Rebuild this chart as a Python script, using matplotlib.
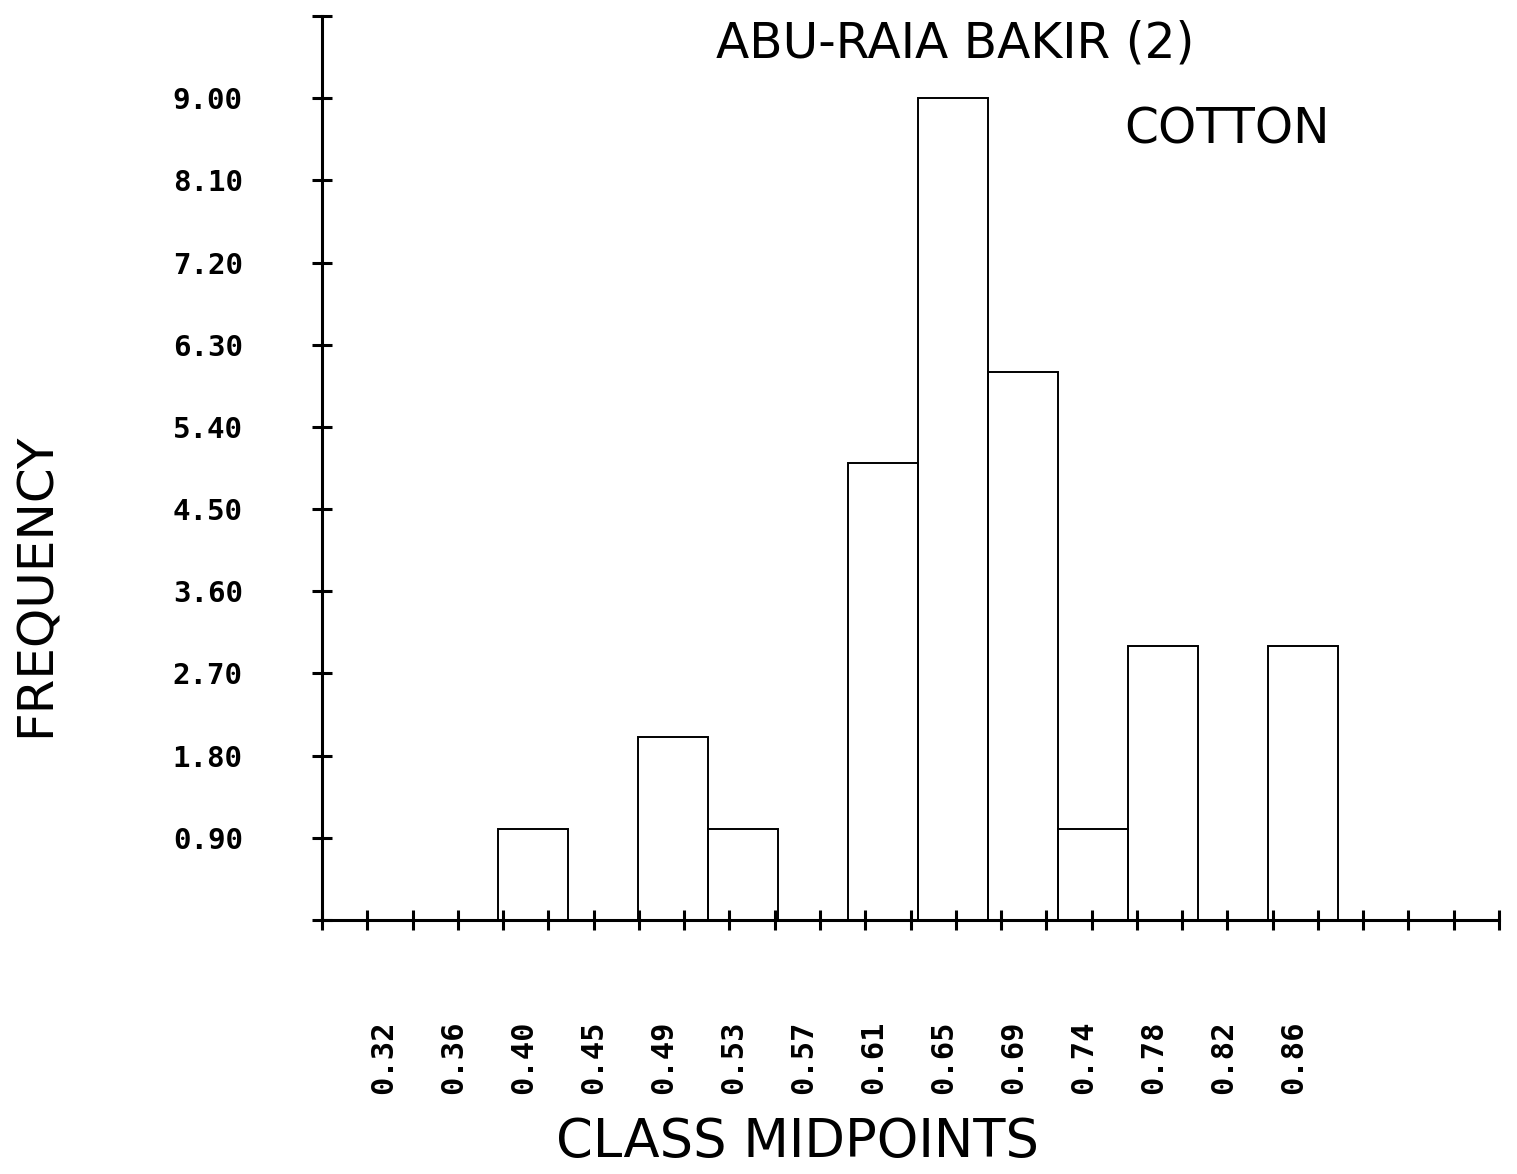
import numpy as np
import matplotlib.pyplot as plt
from matplotlib import transforms

# class midpoints (x labels) and counts per class
midpoints = ["0.32", "0.36", "0.40", "0.45", "0.49", "0.53", "0.57",
             "0.61", "0.65", "0.69", "0.74", "0.78", "0.82", "0.86"]
frequency = [0, 0, 1, 0, 2, 1, 0, 5, 9, 6, 1, 3, 0, 3]
ytick_vals = [0.9 * k for k in range(12)]
ytick_labels = ["" if k in (0, 11) else "%.2f" % (0.9 * k) for k in range(12)]

W, H = 1517, 1174
fig = plt.figure(figsize=(W / 100, H / 100), dpi=100)
ax = fig.add_axes([322 / W, 1 - 920 / H, (1499 - 322) / W, (920 - 16) / H])

x = np.arange(len(midpoints))
ax.bar(x, frequency, width=1.0, fill=False, edgecolor="black", linewidth=1.4, zorder=3)

xmin, xmax = -1.014, 15.8
ax.set_xlim(xmin, xmax)
ax.set_ylim(0, 9.9)
for s in ["top", "right"]:
    ax.spines[s].set_visible(False)
for s in ["left", "bottom"]:
    ax.spines[s].set_linewidth(2.2)

ax.set_xticks(np.linspace(xmin, xmax, 27), [])
ax.set_yticks(ytick_vals, ytick_labels)
ax.tick_params(direction="inout", length=14, width=2.2)
ax.tick_params(axis="y", pad=50)
for lab in ax.get_yticklabels():
    lab.set_fontfamily("DejaVu Sans Mono")
    lab.set_fontweight("bold")
    lab.set_fontsize(21)

trans = transforms.blended_transform_factory(ax.transData, ax.transAxes)
for i, lab in enumerate(midpoints):
    ax.text(i - 0.13, -0.1515, lab, transform=trans, rotation=90,
            ha="center", va="center", fontfamily="DejaVu Sans Mono",
            fontweight="bold", fontsize=22)

fig.text(955 / W, 1 - 43 / H, "ABU-RAIA BAKIR (2)", ha="center", va="center",
         fontfamily="DejaVu Sans", fontsize=35)
fig.text(1227 / W, 1 - 130 / H, "COTTON", ha="center", va="center",
         fontfamily="DejaVu Sans", fontsize=35)
fig.text(36 / W, 1 - 585 / H, "FREQUENCY", ha="center", va="center", rotation=90,
         fontfamily="DejaVu Sans", fontsize=36)
fig.text(798 / W, 1 - 1142 / H, "CLASS MIDPOINTS", ha="center", va="center",
         fontfamily="DejaVu Sans", fontsize=38)

fig.savefig("out.png", dpi=100)
